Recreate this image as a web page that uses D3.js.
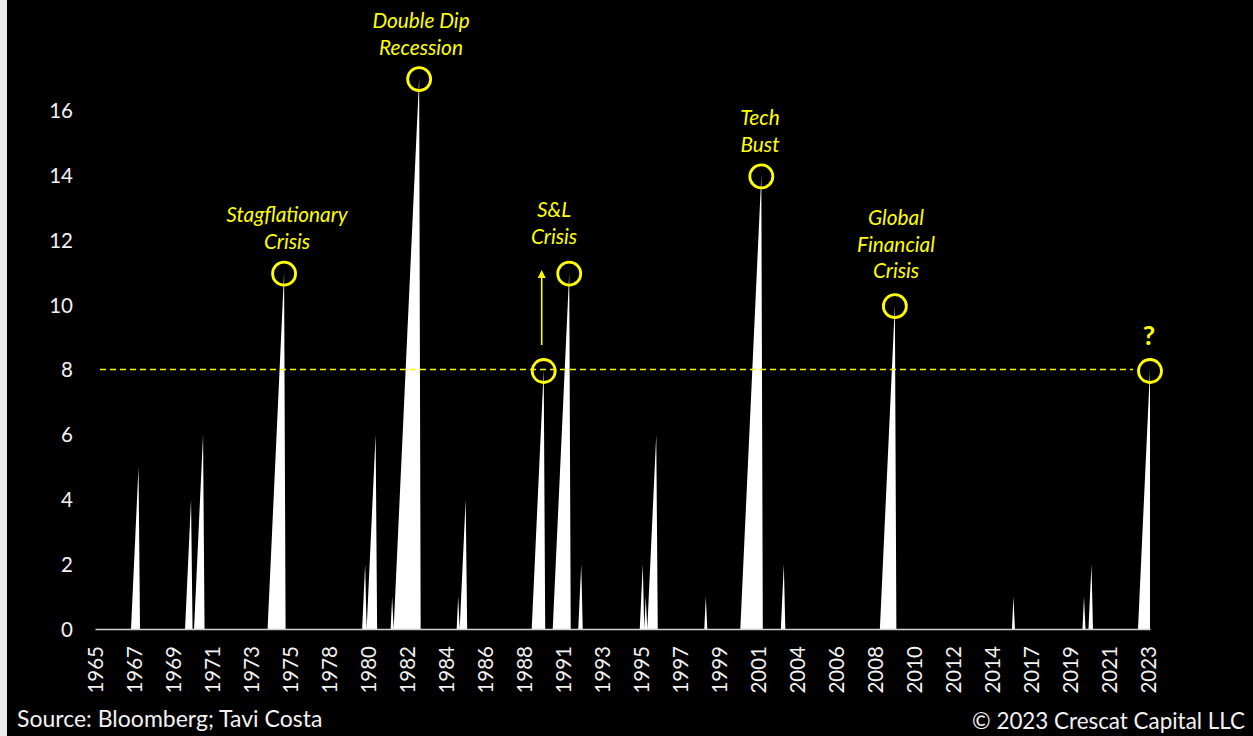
<!DOCTYPE html>
<html>
<head>
<meta charset="utf-8">
<script src="https://cdn.jsdelivr.net/npm/d3@7"></script>
<style>
  html, body { margin: 0; padding: 0; background: #000; }
  svg { display: block; }
</style>
</head>
<body>
<svg id="chart" width="1253" height="736"></svg>
<script>
// ---------------- DATA ----------------
// Monthly series, Jan 1965 – Aug 2023. Value is 0 in every month not covered by an episode.
const firstMonth = "1965-01";
const lastMonth = "2023-08";
// Each episode: first non-zero month and the monthly values that follow
const episodeStarts = ["1967-02","1970-02","1970-08","1974-09","1979-12","1980-03","1981-07","1981-09",
  "1985-03","1985-05","1989-05","1990-07","1991-12","1995-05","1995-08","1995-10","1998-12",
  "2000-12","2003-03","2008-09","2016-01","2019-12","2020-04","2023-01"];
const episodeValues = [
  [1,2,3,4,5],
  [1,2,3,4],
  [1,2,3,4,5,6],
  [1,2,3,4,5,6,7,8,9,10,11],
  [1,2],
  [1,2,3,4,5,6],
  [1],
  [1,2,3,4,5,6,7,8,9,10,11,12,13,14,15,16,17],
  [1],
  [1,2,3,4],
  [1,2,3,4,5,6,7,8],
  [1,2,3,4,5,6,7,8,9,10,11],
  [1,2],
  [1,2],
  [1],
  [1,2,3,4,5,6],
  [1],
  [1,2,3,4,5,6,7,8,9,10,11,12,13,14],
  [1,2],
  [1,2,3,4,5,6,7,8,9,10],
  [1],
  [1],
  [1,2],
  [1,2,3,4,5,6,7,8]
];
const xTickMonths = ["1965-01","1967-03","1969-05","1971-07","1973-09","1975-11","1978-01","1980-03",
  "1982-05","1984-07","1986-09","1988-11","1991-01","1993-03","1995-05","1997-07","1999-09","2001-11",
  "2004-01","2006-03","2008-05","2010-07","2012-09","2014-11","2017-01","2019-03","2021-05","2023-07"];
const yTicks = [0,2,4,6,8,10,12,14,16];
const thresholdValue = 8;
const circledMonths = ["1975-07","1983-01","1989-12","1991-05","2002-01","2009-06","2023-08"];
const labelTexts = [["Stagflationary","Crisis"],["Double Dip","Recession"],["S&L","Crisis"],["Tech","Bust"],["Global","Financial","Crisis"]];
const sourceText = "Source: Bloomberg; Tavi Costa";
const copyrightText = "\u00A9 2023 Crescat Capital LLC";

// ---------------- BUILD ----------------
const parseM = d3.timeParse("%Y-%m");
const fmtM = d3.timeFormat("%Y-%m");
const monthKeys = d3.timeMonth.range(parseM(firstMonth), d3.timeMonth.offset(parseM(lastMonth), 1)).map(fmtM);
const valueByMonth = new Map(monthKeys.map(k => [k, 0]));
episodeStarts.forEach((s, e) => {
  const start = parseM(s);
  episodeValues[e].forEach((v, j) => valueByMonth.set(fmtM(d3.timeMonth.offset(start, j)), v));
});
const series = monthKeys.map(k => ({ key: k, v: valueByMonth.get(k) }));

const svg = d3.select("#chart");
const W = 1253, H = 736;
const YELLOW = "#ffff00";
const FONT = "Lato, 'Open Sans', sans-serif";

// background
svg.append("rect").attr("x", 0).attr("y", 0).attr("width", W).attr("height", H).attr("fill", "#000");
svg.append("rect").attr("x", 0).attr("y", 0).attr("width", 7).attr("height", H).attr("fill", "#ededed");

const x = d3.scalePoint().domain(monthKeys).range([95, 1150]);
const y = d3.scaleLinear().domain([0, 16]).range([629, 110]);

// area
const area = d3.area()
  .x(d => x(d.key))
  .y0(y(0))
  .y1(d => y(d.v));
svg.append("path").datum(series).attr("d", area).attr("fill", "#ffffff");

// x axis
const xAxis = d3.axisBottom(x).tickValues(xTickMonths).tickFormat(k => k.slice(0, 4)).tickSize(0).tickPadding(0);
const gx = svg.append("g").attr("transform", `translate(0,${y(0)})`).call(xAxis);
gx.select(".domain").attr("stroke", "#d0d0d0").attr("stroke-width", 1.5);
gx.selectAll("text")
  .attr("fill", "#f2f2f2")
  .attr("font-family", FONT)
  .attr("font-size", 20.5)
  .attr("text-anchor", "end")
  .attr("transform", "rotate(-90)")
  .attr("x", -17)
  .attr("y", 0)
  .attr("dy", "0.36em");

// y axis
const yAxis = d3.axisLeft(y).tickValues(yTicks).tickSize(0).tickPadding(0);
const gy = svg.append("g").attr("transform", `translate(73,0)`).call(yAxis);
gy.select(".domain").remove();
gy.selectAll("text")
  .attr("fill", "#f2f2f2")
  .attr("font-family", FONT)
  .attr("font-size", 20.5)
  .attr("dy", "0.36em");

// threshold dashed line
svg.append("line")
  .attr("x1", 100).attr("x2", 1133)
  .attr("y1", y(thresholdValue)).attr("y2", y(thresholdValue))
  .attr("stroke", YELLOW).attr("stroke-width", 1.6)
  .attr("stroke-dasharray", "6,4");

// circles on peaks
svg.selectAll("circle.peak").data(circledMonths).enter().append("circle")
  .attr("class", "peak")
  .attr("cx", k => x(k))
  .attr("cy", k => y(valueByMonth.get(k)) + 1.5)
  .attr("r", 11.5)
  .attr("fill", "none")
  .attr("stroke", YELLOW)
  .attr("stroke-width", 2.8);

// labels
const labelPos = [
  { cx: 287, by: 222 },
  { cx: 421, by: 28 },
  { cx: 554, by: 217 },
  { cx: 760, by: 125 },
  { cx: 896, by: 225 }
];
labelTexts.forEach((lines, i) => {
  const t = svg.append("text")
    .attr("font-family", FONT)
    .attr("font-style", "italic")
    .attr("font-size", 20.8)
    .attr("fill", YELLOW)
    .attr("text-anchor", "middle");
  lines.forEach((ln, j) => {
    t.append("tspan").attr("x", labelPos[i].cx).attr("y", labelPos[i].by + j * 26.7).text(ln);
  });
});

// question mark
svg.append("text")
  .attr("x", 1149).attr("y", 345)
  .attr("font-family", FONT).attr("font-weight", "bold").attr("font-size", 27)
  .attr("fill", YELLOW).attr("text-anchor", "middle")
  .text("?");

// arrow (S&L)
svg.append("defs").append("marker")
  .attr("id", "arrowhead").attr("viewBox", "0 0 10 10")
  .attr("refX", 5).attr("refY", 5)
  .attr("markerWidth", 5).attr("markerHeight", 5)
  .attr("markerUnits", "strokeWidth")
  .attr("orient", "auto")
  .append("path").attr("d", "M0,0 L10,5 L0,10 Z").attr("fill", YELLOW);
svg.append("line")
  .attr("x1", 541.7).attr("x2", 541.7)
  .attr("y1", 345).attr("y2", 274)
  .attr("stroke", YELLOW).attr("stroke-width", 1.6)
  .attr("marker-end", "url(#arrowhead)");

// footer
svg.append("text")
  .attr("x", 17).attr("y", 727)
  .attr("font-family", FONT).attr("font-size", 23)
  .attr("fill", "#f2f2f2")
  .text(sourceText);
svg.append("text")
  .attr("x", 1245).attr("y", 729)
  .attr("font-family", FONT).attr("font-size", 22.4)
  .attr("fill", "#f2f2f2").attr("text-anchor", "end")
  .text(copyrightText);
</script>
</body>
</html>
